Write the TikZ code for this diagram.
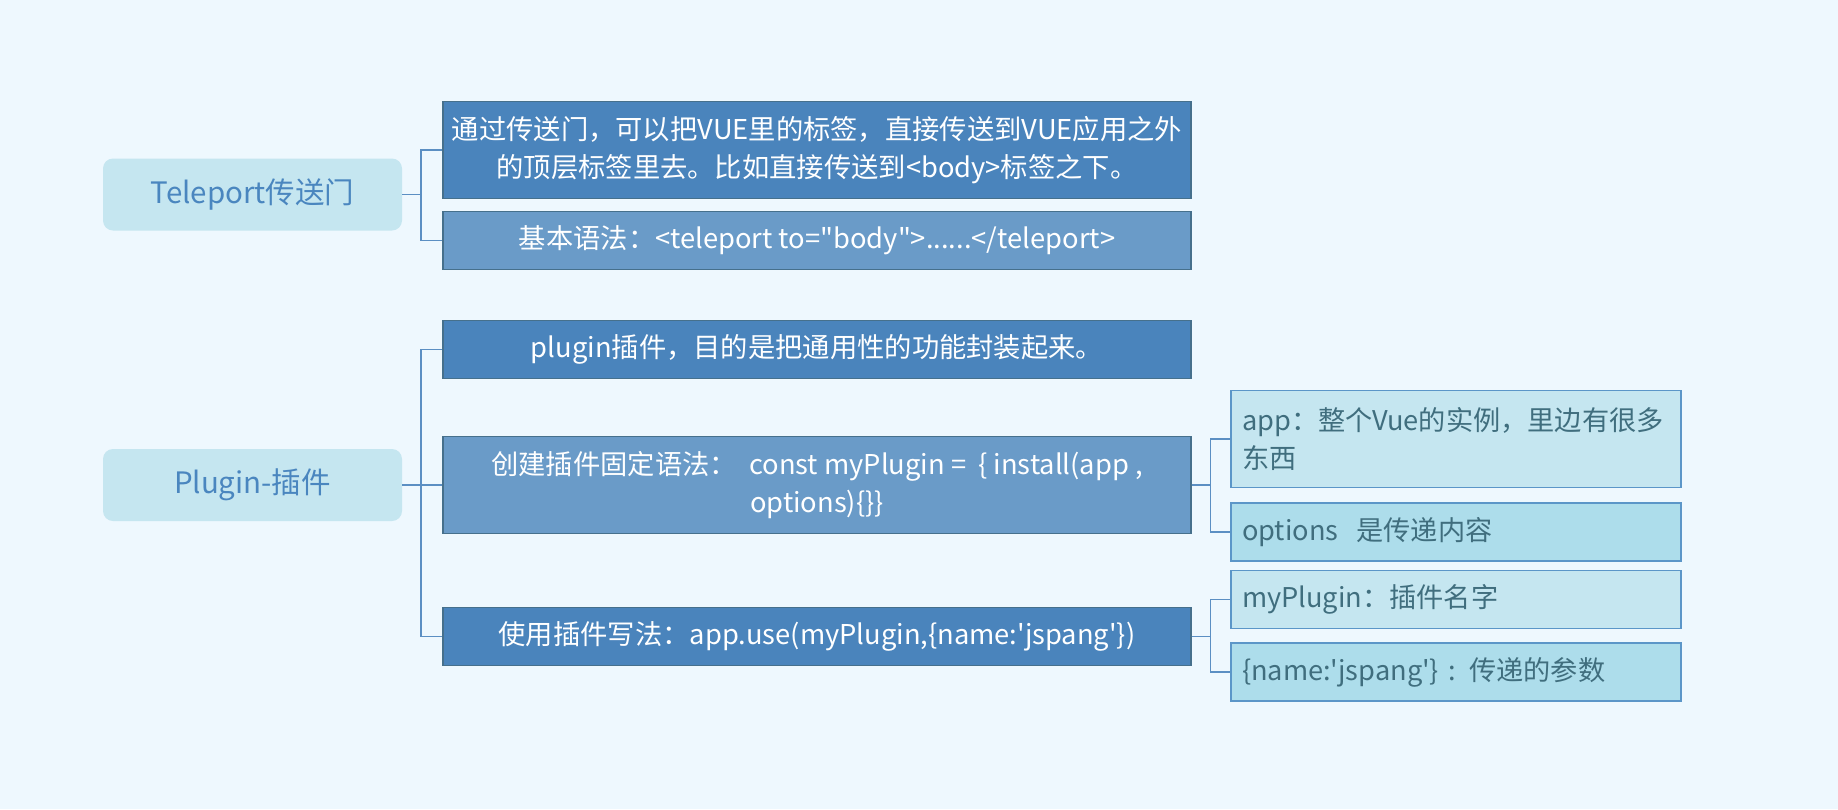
\documentclass[tikz,border=0pt]{standalone}
\usepackage{fontspec}
\setmainfont{Noto Sans CJK SC}
\usetikzlibrary{positioning}

\definecolor{bgblue}{RGB}{238,248,254}
\definecolor{rootfill}{RGB}{197,230,240}
\definecolor{roottext}{RGB}{74,134,191}
\definecolor{darkfill}{RGB}{74,132,188}
\definecolor{midfill}{RGB}{106,155,200}
\definecolor{topicline}{RGB}{70,112,140}
\definecolor{leaffillA}{RGB}{197,230,240}
\definecolor{leaffillB}{RGB}{173,221,235}
\definecolor{leafline}{RGB}{91,150,200}
\definecolor{leaftext}{RGB}{64,110,126}
\definecolor{linkblue}{RGB}{91,143,195}

\begin{document}
\begin{tikzpicture}[x=1pt, y=-1pt,
    root/.style={rectangle, rounded corners=10pt, fill=rootfill, text=roottext, minimum width=299pt, minimum height=72pt, font=\fontsize{29.5}{38}\selectfont},
    topic/.style={rectangle, draw=topicline, line width=1.2pt, minimum width=748pt, minimum height=58pt, text=white, align=center, font=\fontsize{27.3}{38}\selectfont},
    dark/.style={topic, fill=darkfill},
    mid/.style={topic, fill=midfill},
    leaf/.style={rectangle, draw=leafline, line width=1.5pt, inner xsep=11pt, text width=428pt, minimum height=58pt, align=left, text=leaftext, font=\fontsize{27.2}{38}\selectfont},
    link/.style={draw=linkblue, line width=1.5pt}
]

\fill[bgblue] (0,0) rectangle (1838,809);

% Teleport
\node[root] (teleport) at (252.5,194.5) {Teleport传送门};
\node[dark, minimum height=97pt] (tpidea) at (817,150) {通过传送门，可以把VUE里的标签，直接传送到VUE应用之外\\的顶层标签里去。比如直接传送到<body>标签之下。};
\node[mid, below=12pt of tpidea] (tpsyntax) {基本语法：<teleport to=\textquotedbl body\textquotedbl>......</teleport>};

% Plugin
\node[root] (plugin) at (252.5,485) {Plugin-插件};
\node[mid, minimum height=97pt] (create) at (817,485) {创建插件固定语法：\ \ const myPlugin =\ \ \{ install(app ,\\ options)\{\}\}};
\node[dark, above=57pt of create] (purpose) {plugin插件，目的是把通用性的功能封装起来。};
\node[dark, below=73pt of create] (usage) {使用插件写法：app.use(myPlugin,\{name:\textquotesingle jspang\textquotesingle\})};

% Details
\node[leaf, fill=leaffillA, minimum height=97pt] (app) at (1456,439) {app：整个Vue的实例，里边有很多\\东西};
\node[leaf, fill=leaffillB, below=14pt of app] (options) {options\ \ 是传递内容};
\node[leaf, fill=leaffillA] (myplugin) at (1456,599.5) {myPlugin：插件名字};
\node[leaf, fill=leaffillB, below=13pt of myplugin] (params) {\{name:\textquotesingle jspang\textquotesingle\} : 传递的参数};

% Connectors
\draw[link] (teleport.east) -- ++(19,0) |- (tpidea.west);
\draw[link] (teleport.east) -- ++(19,0) |- (tpsyntax.west);
\draw[link] (plugin.east) -- ++(19,0) |- (purpose.west);
\draw[link] (plugin.east) -- ++(19,0) |- (create.west);
\draw[link] (plugin.east) -- ++(19,0) |- (usage.west);
\draw[link] (create.east) -- ++(19,0) |- (app.west);
\draw[link] (create.east) -- ++(19,0) |- (options.west);
\draw[link] (usage.east) -- ++(19,0) |- (myplugin.west);
\draw[link] (usage.east) -- ++(19,0) |- (params.west);

\end{tikzpicture}
\end{document}
